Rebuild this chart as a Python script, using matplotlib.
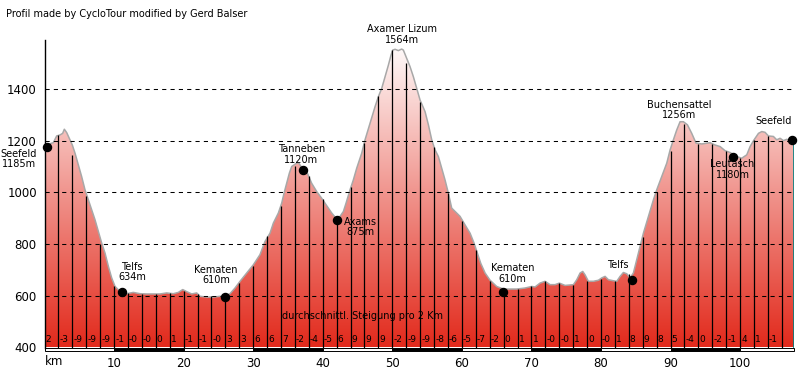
import matplotlib
matplotlib.use("Agg")
import matplotlib.pyplot as plt
import numpy as np
from matplotlib.colors import LinearSegmentedColormap
from matplotlib.patches import Polygon, Rectangle
import matplotlib.transforms as mtransforms

# ---------------- data ----------------
title = "Profil made by CycloTour modified by Gerd Balser"

prof_km = [0, 0.55, 1.27, 1.75, 2.23, 2.61, 2.85, 3.19, 3.67, 4.0, 4.39, 4.86, 5.34, 5.82,
           6.30, 6.78, 7.26, 7.74, 8.22, 8.70, 9.18, 9.66, 10.14, 10.86, 11.81, 12.77,
           13.73, 14.69, 15.65, 16.61, 17.57, 18.52, 19.24, 19.87, 20.44, 21.16, 21.88,
           22.36, 23.32, 24.27, 25.23, 25.95, 26.67, 27.39, 28.11, 29.07, 30.03, 30.98,
           31.70, 32.42, 32.90, 33.62, 34.10, 34.44, 34.82, 35.20, 35.54, 35.87, 36.26,
           36.50, 36.83, 37.21, 37.79, 38.41, 39.13, 39.85, 40.33, 40.81, 41.29, 41.91,
           42.49, 42.97, 43.35, 43.93, 44.40, 44.88, 45.60, 46.08, 46.80, 47.52, 48.00,
           48.48, 48.96, 49.44, 49.82, 50.06, 50.40, 50.87, 51.35, 51.59, 52.07, 52.55,
           53.03, 53.51, 53.99, 54.71, 55.19, 55.67, 56.15, 56.63, 57.11, 57.58, 58.06,
           58.54, 59.02, 59.74, 60.46, 61.18, 61.75, 62.23, 62.71, 63.34, 64.06, 65.01,
           65.97, 66.93, 67.89, 69.09, 70.05, 70.52, 71.24, 71.96, 72.68, 73.40, 74.02,
           74.84, 76.04, 76.52, 77.00, 77.38, 77.71, 78.19, 78.91, 79.63, 80.11, 80.59,
           81.07, 81.79, 82.27, 82.75, 83.22, 83.71, 84.18, 84.66, 85.14, 85.62, 86.10,
           86.82, 87.54, 88.02, 88.74, 89.46, 89.94, 90.41, 90.89, 91.37, 91.85, 92.43,
           93.05, 93.67, 94.49, 95.21, 95.69, 96.40, 97.12, 97.84, 98.56, 99.52, 100.24,
           100.96, 101.44, 102.01, 102.64, 103.12, 103.59, 104.07, 104.79, 105.27,
           105.75, 106.23, 106.71, 107.19, 107.75]
prof_elev = [1183, 1186, 1192, 1218, 1222, 1228, 1244, 1231, 1203, 1183, 1151, 1106, 1061, 1010,
             971, 932, 894, 849, 804, 765, 714, 669, 636, 617, 608, 613,
             608, 607, 607, 607, 611, 608, 613, 624, 616, 607, 611,
             598, 595, 595, 598, 598, 608, 630, 656, 688, 720, 759,
             810, 842, 881, 920, 958, 997, 1035, 1074, 1100, 1106, 1113,
             1115, 1102, 1087, 1074, 1035, 1003, 977, 958, 939, 920, 900,
             907, 926, 958, 1010, 1048, 1093, 1151, 1203, 1267, 1331, 1370,
             1402, 1447, 1492, 1531, 1550, 1553, 1548, 1554, 1550, 1518, 1486,
             1447, 1402, 1357, 1312, 1261, 1203, 1164, 1138, 1093, 1048, 997,
             939, 926, 907, 874, 842, 804, 765, 726, 688, 660, 636,
             626, 626, 626, 630, 636, 634, 649, 656, 643, 643, 649,
             640, 643, 662, 688, 694, 681, 656, 656, 660, 669, 675,
             662, 658, 656, 675, 690, 685, 669, 688, 739, 791, 842,
             907, 971, 1010, 1061, 1113, 1164, 1203, 1241, 1273, 1273, 1261,
             1228, 1190, 1187, 1190, 1192, 1183, 1177, 1161, 1154, 1138, 1132,
             1145, 1177, 1203, 1228, 1235, 1232, 1218, 1216, 1203,
             1209, 1200, 1205, 1200, 1200]

post_km = list(range(2, 108, 2))
post_elev = [1222, 1145, 986, 801, 636, 611, 607, 605, 611, 620, 608, 600, 600, 649,
             716, 830, 949, 1100, 1065, 974, 894, 1022, 1190, 1373, 1550, 1501, 1351,
             1174, 999, 891, 778, 656, 626, 626, 636, 656, 649, 643, 656, 665, 658,
             685, 829, 1003, 1161, 1264, 1187, 1187, 1158, 1132, 1203, 1218, 1200]
end_km = 107.75
end_elev = 1200

seg_start_km = list(range(0, 106, 2))
seg_labels = ["2", "-3", "-9", "-9", "-9", "-1", "-0", "-0", "0", "1", "-1", "-1", "-0",
              "3", "3", "6", "6", "7", "-2", "-4", "-5", "6", "9", "9", "9", "-2", "-9",
              "-9", "-8", "-6", "-5", "-7", "-2", "0", "1", "1", "-0", "-0", "1", "0",
              "-0", "1", "8", "9", "8", "5", "-4", "0", "-2", "-1", "4", "1", "-1"]

dot_km = [0.32, 11.1, 25.95, 37.12, 42.01, 65.88, 84.43, 98.95, 107.43]
dot_elev = [1175, 615, 596, 1088, 892, 615, 660, 1137, 1201]

place_text = ["Seefeld\n1185m", "Telfs\n634m", "Kematen\n610m", "Tanneben\n1120m",
              "Axams\n875m", "Axamer Lizum\n1564m", "Kematen\n610m", "Telfs",
              "Buchensattel\n1256m", "Leutasch\n1180m", "Seefeld"]
place_km = [-3.67, 12.58, 24.63, 36.92, 45.43, 51.36, 67.29, 82.39, 91.3, 98.92, 104.84]
place_elev = [1130, 691, 681, 1146, 866, 1610, 686, 720, 1319, 1088, 1275]

grid_levels = [600, 800, 1000, 1200, 1400]
y_ticks = [400, 600, 800, 1000, 1200, 1400]
x_ticks = [10, 20, 30, 40, 50, 60, 70, 80, 90, 100]
scale_edges = [0, 10, 20, 30, 40, 50, 60, 70, 80, 90, 100, 107.75]

# ---------------- figure ----------------
W, H = 798, 376
fig = plt.figure(figsize=(W / 100, H / 100), dpi=100)
x_left, x_right = 44.5, 794.0
y_bot, y_top = 347.5, 40.0
ax = fig.add_axes([x_left / W, (H - y_bot) / H, (x_right - x_left) / W, (y_bot - y_top) / H])
YMIN, YMAX = 400, 1589

fs_small = 7
fs_tick = 8.5

# gradient fill clipped to profile
cmap = LinearSegmentedColormap.from_list("g", [(0, "#e22a1c"), (1, "#ffffff")])
grad = np.linspace(0, 1, 512).reshape(-1, 1)
im = ax.imshow(grad, extent=[0, end_km, YMIN, YMAX], origin="lower", aspect="auto",
               cmap=cmap, zorder=1, interpolation="bilinear")
verts = [(0, YMIN)] + list(zip(prof_km, prof_elev)) + [(end_km, YMIN)]
poly = Polygon(verts, closed=True, facecolor="none", edgecolor="none", transform=ax.transData)
ax.add_patch(poly)
im.set_clip_path(poly)

ax.plot(prof_km, prof_elev, color="#a8a8a8", lw=1.1, zorder=2)

# posts every 2 km
ax.vlines(post_km, YMIN, post_elev, colors="black", lw=0.9, zorder=3)
ax.vlines([end_km], YMIN, [end_elev], colors="#008080", lw=1.2, zorder=3)

# gridlines
ax.hlines(grid_levels, 0, end_km, colors="black", linestyles=(0, (4, 4)), lw=0.75, zorder=4)

# gradient labels
for k, lab in zip(seg_start_km, seg_labels):
    ax.text(k + 0.15, 429, lab, fontsize=6.5, ha="left", va="center", zorder=5)

ax.text(34.15, 522, "durchschnittl. Steigung pro 2 Km", fontsize=fs_small,
        ha="left", va="center", zorder=5)

# places
ax.plot(dot_km, dot_elev, "o", color="black", ms=5.8, zorder=6, clip_on=False)
for t, k, e in zip(place_text, place_km, place_elev):
    ha = "left" if t.startswith("Axams") else "center"
    ax.text(k if ha == "center" else 43.0, e, t, fontsize=fs_small, ha=ha, va="center",
            ma="center", linespacing=1.05, zorder=7, clip_on=False)

# scale bar under the axis
for i in range(len(scale_edges) - 1):
    a, b = scale_edges[i], scale_edges[i + 1]
    ax.add_patch(Rectangle((a, 385), b - a, 14, facecolor="white" if i % 2 == 0 else "black",
                           edgecolor="black", lw=0.7, clip_on=False, zorder=5))

ax.set_xlim(0, end_km)
ax.set_ylim(YMIN, YMAX)
for s in ["top", "right", "bottom"]:
    ax.spines[s].set_visible(False)
ax.spines["left"].set_linewidth(1.0)
ax.spines["left"].set_zorder(8)
ax.set_yticks(y_ticks)
ax.set_xticks(x_ticks)
ax.tick_params(axis="both", length=0, labelsize=fs_tick)
ax.tick_params(axis="y", pad=5.5)
ax.tick_params(axis="x", pad=7)
trans = mtransforms.blended_transform_factory(ax.transData, ax.transAxes)
ax.text(0, -0.023 - 7 / (y_bot - y_top) * 0.0, "km", transform=trans, fontsize=fs_tick,
        ha="left", va="top")

fig.text(6 / W, 1 - 13.7 / H, title, fontsize=fs_small, ha="left", va="center")

fig.savefig("out.png", dpi=100)
